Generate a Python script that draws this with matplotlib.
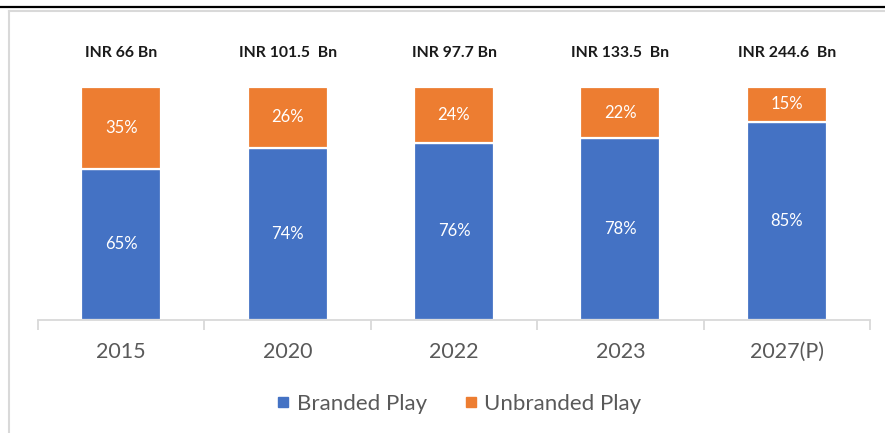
import matplotlib.pyplot as plt
from matplotlib.lines import Line2D
import numpy as np

years = ['2015', '2020', '2022', '2023', '2027(P)']
totals = ['INR 66 Bn', 'INR 101.5  Bn', 'INR 97.7 Bn', 'INR 133.5  Bn', 'INR 244.6  Bn']
branded = [65, 74, 76, 78, 85]
unbranded = [35, 26, 24, 22, 15]

blue = '#4472C4'
orange = '#ED7D31'
plt.rcParams['font.family'] = ['Lato', 'DejaVu Sans']

fig = plt.figure(figsize=(8.85, 4.33), dpi=100)
ax = fig.add_axes([38/885, 113/433, 832/885, 233/433])

x = np.arange(len(years))
b = np.array(branded) / 100
u = np.array(unbranded) / 100
ax.bar(x, b, width=0.48, color=blue, edgecolor='white', linewidth=1.6, label='Branded Play')
ax.bar(x, u, width=0.48, bottom=b, color=orange, edgecolor='white', linewidth=1.6, label='Unbranded Play')

for i in range(len(years)):
    ax.text(x[i], b[i] / 2, f'{branded[i]}%', ha='center', va='center', color='white', fontsize=12)
    ax.text(x[i], b[i] + u[i] / 2, f'{unbranded[i]}%', ha='center', va='center', color='white', fontsize=12)
    ax.text(x[i], 1.145, totals[i], ha='center', va='center', color='#1a1a1a', fontsize=11.3, fontweight='bold')

ax.set_xlim(-0.5, len(years) - 0.5)
ax.set_ylim(0, 1)
for s in ['top', 'left', 'right']:
    ax.spines[s].set_visible(False)
ax.spines['bottom'].set_color('#D9D9D9')
ax.spines['bottom'].set_linewidth(1.3)
ax.set_yticks([])
ax.set_xticks(x)
ax.set_xticklabels(years, fontsize=15.5, color='#595959')
ax.tick_params(axis='x', which='major', length=0, pad=16)
ax.set_xticks(np.arange(-0.5, len(years)), minor=True)
ax.tick_params(axis='x', which='minor', length=7, width=1.3, color='#D9D9D9')

handles = [Line2D([], [], marker='s', linestyle='', color=blue, markersize=6.5),
           Line2D([], [], marker='s', linestyle='', color=orange, markersize=6.5)]
fig.legend(handles, ['Branded Play', 'Unbranded Play'], loc='center', bbox_to_anchor=(458/885, 1 - 404/433),
           ncol=2, frameon=False, fontsize=16, labelcolor='#595959', handlelength=0.8,
           handletextpad=0.2, columnspacing=1.6)

# frame lines from the page the chart was taken from
fig.add_artist(Line2D([0, 1], [1 - 7/433, 1 - 7/433], color='black', linewidth=1.6))
fig.add_artist(Line2D([9/885, 1], [1 - 11/433, 1 - 11/433], color='#D9D9D9', linewidth=1.5))
fig.add_artist(Line2D([9/885, 9/885], [0, 1 - 11/433], color='#D9D9D9', linewidth=1.5))

fig.savefig('out.png', dpi=100)
